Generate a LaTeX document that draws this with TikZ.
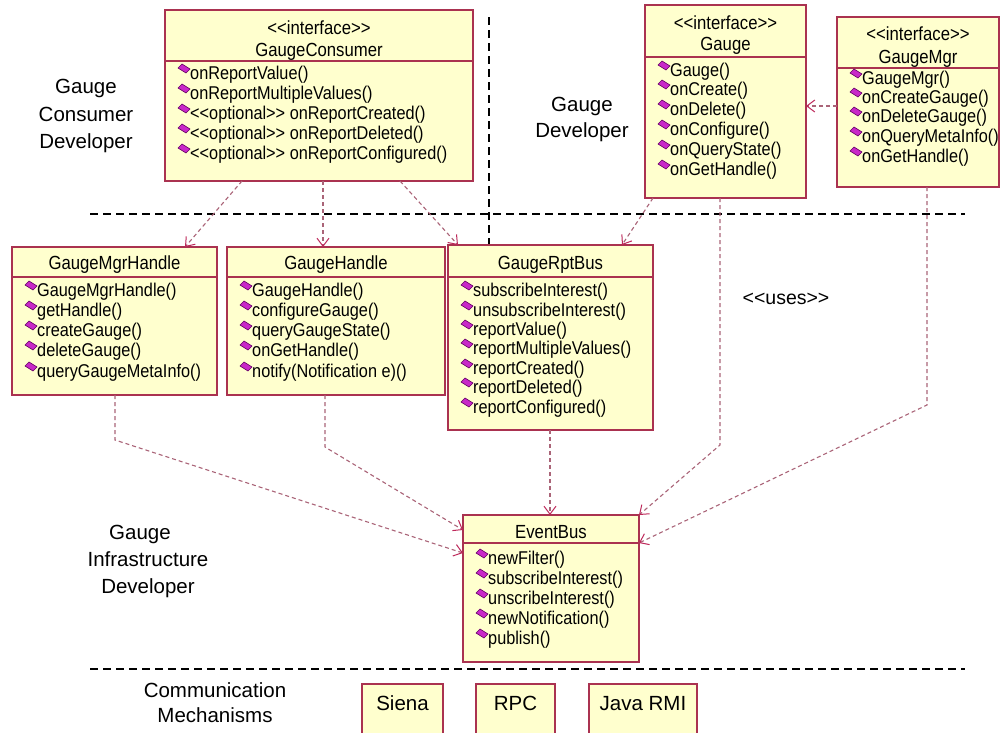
\documentclass[tikz,border=0pt]{standalone}
\usepackage{fontspec}
\setmainfont{Liberation Sans}[Ligatures=TeXOff]
\newfontfamily\condf{Liberation Sans}[Ligatures=TeXOff, FakeStretch=0.88]
\usetikzlibrary{arrows.meta,calc}
\definecolor{boxfill}{RGB}{255,255,206}
\definecolor{boxedge}{RGB}{170,50,80}
\definecolor{conn}{RGB}{170,100,120}
\definecolor{tipc}{RGB}{190,40,90}
\definecolor{diaf}{RGB}{200,40,200}
\definecolor{diae}{RGB}{100,0,100}
\newcommand{\mf}{\condf\fontsize{18.5}{22}\selectfont}
\newcommand{\hf}{\condf\fontsize{19}{22}\selectfont}
\newcommand{\lf}{\fontsize{20.5}{24}\selectfont}
\newcommand{\uf}{\fontsize{19.5}{23}\selectfont}
\tikzset{
 cls/.style={draw=boxedge, fill=boxfill, line width=1.3pt, rectangle, inner sep=0pt, outer sep=0pt, anchor=north west},
 sepline/.style={draw=boxedge, line width=1.3pt},
 methtext/.style={font=\mf, inner sep=0pt, anchor=base west},
 headtext/.style={font=\hf, inner sep=0pt, anchor=base},
 lbl/.style={font=\lf, inner sep=0pt, anchor=base},
 dep/.style={draw=conn, line width=1.1pt, dash pattern=on 4pt off 3pt, -{Straight Barb[length=8pt,width=12pt,color=tipc,line width=1pt]}},
 layer/.style={draw=black, line width=1.4pt, dash pattern=on 8pt off 5pt},
 dia/.style={fill=diaf, draw=diae, line width=0.6pt},
}
% name, box-left x, row centre y, text
\newcommand{\meth}[4]{%
 \filldraw[dia] (#2+13,#3-5) -- (#2+17,#3-9) -- (#2+25,#3-4) -- (#2+21,#3+0) -- cycle;
 \node[methtext] (#1) at (#2+25,#3+6.5) {#4};}
\begin{document}
\begin{tikzpicture}[x=1pt,y=-1pt]
\useasboundingbox (0,0) rectangle (1002,732);
\fill[white] (0,0) rectangle (1002,732);

% layer separators
\draw[layer] (90,214) -- (965,214);
\draw[layer] (90,669) -- (965,669);
\draw[layer] (489,17) -- (489,245);

% labels
\node[lbl] (l1a) at (86,93.5) {Gauge};
\node[lbl] (l1b) at (86,121.5) {Consumer};
\node[lbl] (l1c) at (86,148.5) {Developer};
\node[lbl] (l2a) at (582,111.5) {Gauge};
\node[lbl] (l2b) at (582,137.5) {Developer};
\node[font=\uf, inner sep=0pt, anchor=base] (uses) at (786,304) {<<uses>>};
\node[lbl] (l3a) at (140,539.5) {Gauge};
\node[lbl] (l3b) at (148,566.5) {Infrastructure};
\node[lbl] (l3c) at (148,593.5) {Developer};
\node[lbl] (l4a) at (215,697.5) {Communication};
\node[lbl] (l4b) at (215,722.5) {Mechanisms};

% GaugeConsumer
\node[cls, minimum width=308pt, minimum height=171pt] (gc) at (165,10) {};
\draw[sepline] (165,61) -- (473,61);
\node[headtext] (gch1) at (319,34) {<<interface>>};
\node[headtext] (gch2) at (319,56.5) {GaugeConsumer};
\meth{gc1}{165}{73}{onReportValue()}
\meth{gc2}{165}{93}{onReportMultipleValues()}
\meth{gc3}{165}{113}{<<optional>> onReportCreated()}
\meth{gc4}{165}{133}{<<optional>> onReportDeleted()}
\meth{gc5}{165}{153}{<<optional>> onReportConfigured()}

% Gauge
\node[cls, minimum width=161pt, minimum height=193pt] (g) at (645,5) {};
\draw[sepline] (645,57) -- (806,57);
\node[headtext] (gh1) at (725.5,29) {<<interface>>};
\node[headtext] (gh2) at (725.5,50) {Gauge};
\meth{g1}{645}{70}{Gauge()}
\meth{g2}{645}{89}{onCreate()}
\meth{g3}{645}{109}{onDelete()}
\meth{g4}{645}{129}{onConfigure()}
\meth{g5}{645}{149}{onQueryState()}
\meth{g6}{645}{169}{onGetHandle()}

% GaugeMgr
\node[cls, minimum width=162pt, minimum height=170pt] (gm) at (837,17) {};
\draw[sepline] (837,68) -- (999,68);
\node[headtext] (gmh1) at (918,40) {<<interface>>};
\node[headtext] (gmh2) at (918,63) {GaugeMgr};
\meth{gm1}{837}{78}{GaugeMgr()}
\meth{gm2}{837}{97}{onCreateGauge()}
\meth{gm3}{837}{116}{onDeleteGauge()}
\meth{gm4}{837}{136}{onQueryMetaInfo()}
\meth{gm5}{837}{156}{onGetHandle()}

% GaugeMgrHandle
\node[cls, minimum width=205pt, minimum height=148pt] (gmh) at (12,247) {};
\draw[sepline] (12,277) -- (217,277);
\node[headtext] (gmhh) at (114.5,269) {GaugeMgrHandle};
\meth{gmh1}{12}{290}{GaugeMgrHandle()}
\meth{gmh2}{12}{310}{getHandle()}
\meth{gmh3}{12}{330}{createGauge()}
\meth{gmh4}{12}{350}{deleteGauge()}
\meth{gmh5}{12}{371}{queryGaugeMetaInfo()}

% GaugeHandle
\node[cls, minimum width=218pt, minimum height=148pt] (gh) at (227,247) {};
\draw[sepline] (227,277) -- (445,277);
\node[headtext] (ghh) at (336,269) {GaugeHandle};
\meth{gh1}{227}{290}{GaugeHandle()}
\meth{gh2}{227}{310}{configureGauge()}
\meth{gh3}{227}{330}{queryGaugeState()}
\meth{gh4}{227}{350}{onGetHandle()}
\meth{gh5}{227}{371}{notify(Notification e)()}

% GaugeRptBus
\node[cls, minimum width=205pt, minimum height=185pt] (grb) at (448,245) {};
\draw[sepline] (448,277) -- (653,277);
\node[headtext] (grbh) at (550.5,269) {GaugeRptBus};
\meth{grb1}{448}{290}{subscribeInterest()}
\meth{grb2}{448}{310}{unsubscribeInterest()}
\meth{grb3}{448}{329}{reportValue()}
\meth{grb4}{448}{348}{reportMultipleValues()}
\meth{grb5}{448}{368}{reportCreated()}
\meth{grb6}{448}{387}{reportDeleted()}
\meth{grb7}{448}{407}{reportConfigured()}

% EventBus
\node[cls, minimum width=176pt, minimum height=147pt] (eb) at (463,515) {};
\draw[sepline] (463,543) -- (639,543);
\node[headtext] (ebh) at (551,538.5) {EventBus};
\meth{eb1}{463}{558}{newFilter()}
\meth{eb2}{463}{578}{subscribeInterest()}
\meth{eb3}{463}{598}{unscribeInterest()}
\meth{eb4}{463}{618}{newNotification()}
\meth{eb5}{463}{638}{publish()}

% communication mechanisms
\node[cls, minimum width=81pt, minimum height=52pt] (siena) at (362,684) {};
\node[lbl] (sienat) at (402.5,710.5) {Siena};
\node[cls, minimum width=79pt, minimum height=52pt] (rpc) at (476,684) {};
\node[lbl] (rpct) at (515.5,710.5) {RPC};
\node[cls, minimum width=108pt, minimum height=52pt] (jrmi) at (589,684) {};
\node[lbl] (jrmit) at (643,710.5) {Java RMI};

% dependencies
\draw[dep] ($(gc.south west)+(77,0)$) -- ($(gmh.north west)+(173,0)$);
\draw[dep] ($(gc.south west)+(158,0)$) -- ($(gh.north west)+(96,0)$);
\draw[dep] ($(gc.south west)+(235,0)$) -- ($(grb.north west)+(10,0)$);
\draw[dep] ($(g.south west)+(8,0)$) -- ($(grb.north west)+(174,0)$);
\draw[dep] ($(g.south west)+(75,0)$) -- ++(0,247) -- (eb.north east);
\draw[dep] ($(gm.south west)+(90,0)$) -- ++(0,218) -- ($(eb.north east)+(0,28)$);
\draw[dep] ($(gm.north west)+(0,89)$) -- ($(g.north east)+(0,101)$);
\draw[dep] ($(gmh.south west)+(103,0)$) -- ++(0,45) -- ($(eb.north west)+(0,38)$);
\draw[dep] ($(gh.south west)+(98,0)$) -- ++(0,52) -- ($(eb.north west)+(0,15)$);
\draw[dep] ($(grb.south west)+(102,0)$) -- ($(eb.north west)+(87,0)$);
\end{tikzpicture}
\end{document}
